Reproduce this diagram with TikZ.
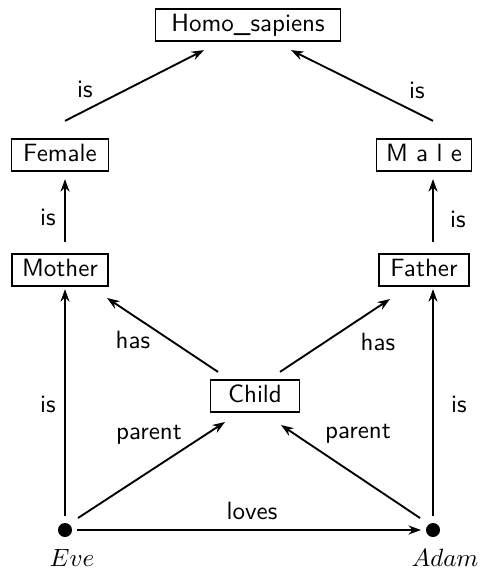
\documentclass[tikz,border=0pt]{standalone}
\usetikzlibrary{arrows.meta,calc}
\begin{document}
\begin{tikzpicture}[x=0.4pt,y=-0.4pt,
  font=\sffamily,
  cbox/.style={draw, line width=0.7pt, inner xsep=0pt, inner ysep=0pt, minimum width=#1, minimum height=13pt, text height=7pt, text depth=2pt},
  arr/.style={line width=0.75pt, -{Stealth[length=5pt,width=3.6pt]}},
  lbl/.style={inner sep=0pt},
  dot/.style={circle, fill, inner sep=0pt, minimum size=5.6pt}]
\useasboundingbox (0,0) rectangle (479,571);
% nodes
\node[cbox=74pt] (homo) at (248,25) {Homo\_sapiens};
\node[cbox=38.8pt] (female) at (60,155) {Female};
\node[cbox=38pt] (male) at (424,155) {M a l e};
\node[cbox=38.4pt] (mother) at (60,270) {Mother};
\node[cbox=36pt] (father) at (424,270) {Father};
\node[cbox=35.6pt] (child) at (255,396) {Child};
\node[dot] (eve) at (65,530) {};
\node[dot] (adam) at (433,530) {};
\node[lbl] (evel) at (72,558) {$Eve$};
\node[lbl] (adaml) at (445,558) {$Adam$};
% connectors
\draw[arr] ($(eve)+(0,-14)$) -- ($(eve |- mother.south)+(0,2)$);
\draw[arr] ($(eve |- mother.north)+(0,-11)$) -- ($(eve |- female.south)+(0,7)$);
\draw[arr] ($(eve |- female.north)+(0,-17)$) -- ($(homo.south)+(-44,8)$);
\draw[arr] ($(adam)+(0,-14)$) -- ($(adam |- father.south)+(0,2)$);
\draw[arr] ($(adam |- father.north)+(0,-11)$) -- ($(adam |- male.south)+(0,7)$);
\draw[arr] ($(adam |- male.north)+(0,-17)$) -- ($(homo.south)+(43,8)$);
\draw[arr] ($(child.north)+(-37,-7)$) -- ($(mother)+(47,28)$);
\draw[arr] ($(child.north)+(25,-7)$) -- ($(father)+(-34,29)$);
\draw[arr] ($(eve)+(13,-12)$) -- ($(child)+(-30,26)$);
\draw[arr] ($(adam)+(-13,-12)$) -- ($(child)+(26,29)$);
\draw[arr] ($(eve)+(12,0)$) -- ($(adam)+(-12,0)$);
% labels
\node[lbl] (l1) at (85,89) {is};
\node[lbl] (l2) at (417,90) {is};
\node[lbl] (l3) at (48,217) {is};
\node[lbl] (l4) at (458,219) {is};
\node[lbl] (l5) at (133,340) {has};
\node[lbl] (l6) at (378,342) {has};
\node[lbl] (l7) at (149,435) {parent};
\node[lbl] (l8) at (358,434) {parent};
\node[lbl] (l9) at (48,404) {is};
\node[lbl] (l10) at (459,404) {is};
\node[lbl] (l11) at (252,511) {loves};
\end{tikzpicture}
\end{document}
